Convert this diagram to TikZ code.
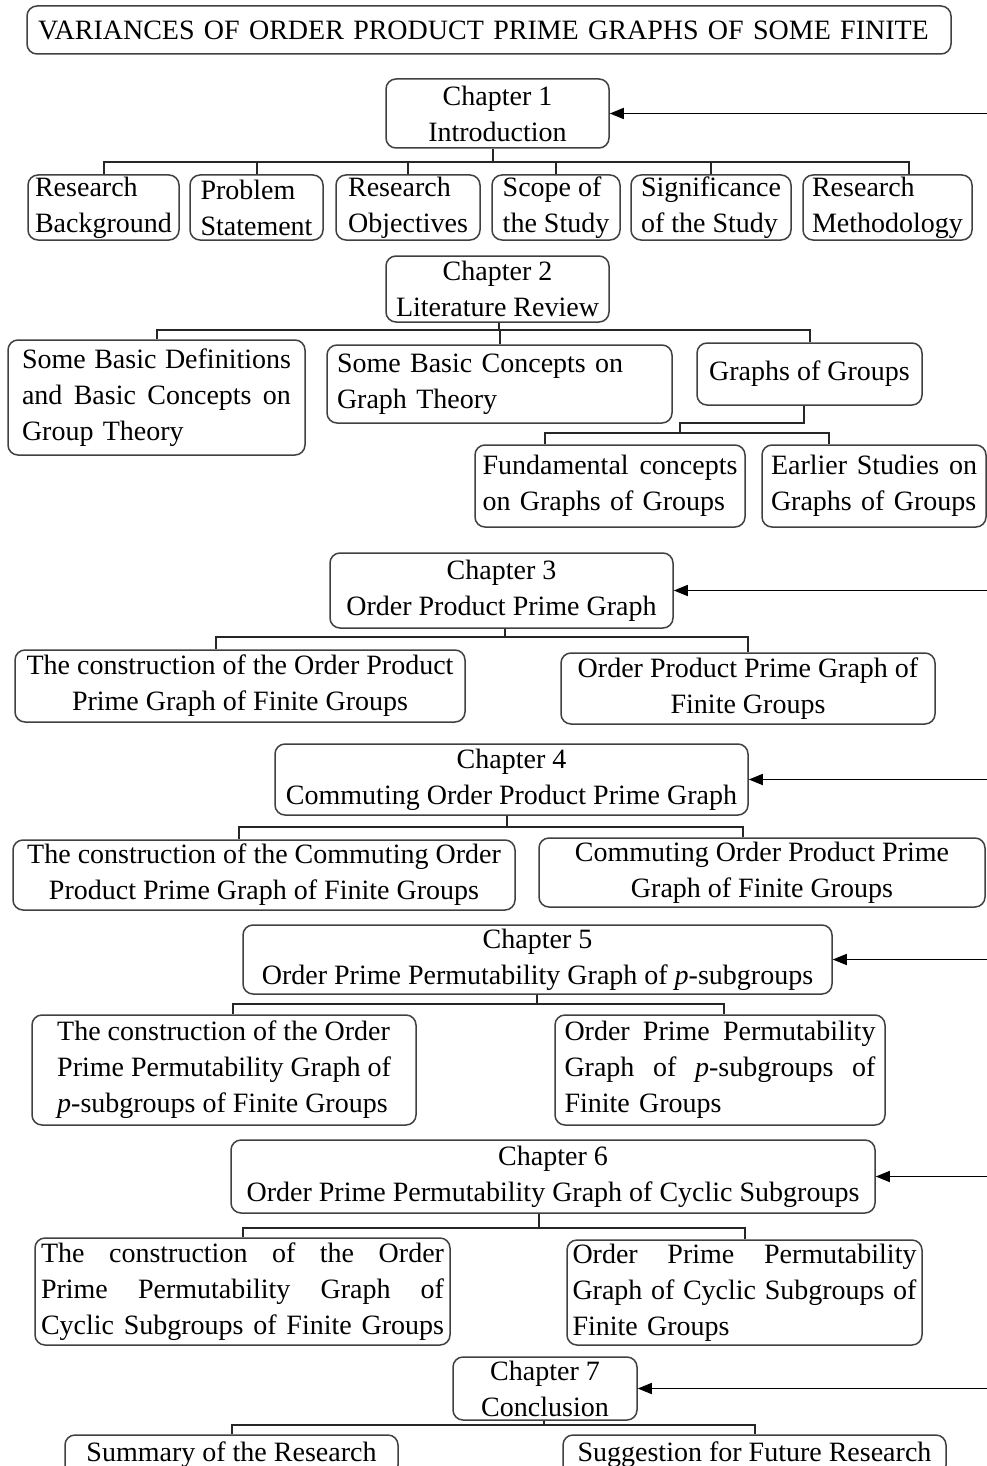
\documentclass[tikz,border=0pt]{standalone}
\usepackage{fontspec}
\setmainfont{Liberation Serif}
\usetikzlibrary{arrows.meta, calc, positioning}
\tikzset{
  box/.style  = {draw=black!75, line width=1.5pt, rounded corners=10pt, inner sep=0pt,
                 font=\fontsize{28}{36}\selectfont},
  wh/.style 2 args = {minimum width=#1, minimum height=#2},
  chap/.style = {box, align=center},
  lbl/.style  = {box, align=left},
  jbox/.style = {box, align=left, text width=#1},
  link/.style = {black!85, line width=2pt},
  feed/.style = {-{Triangle[length=14pt, width=11pt]}, line width=1.5pt, black},
}
% one justified line of a given width
\newcommand{\jl}[2]{\leavevmode\hbox to #1{\spaceskip=0.25em plus 1fil\relax #2}}

\begin{document}
\begin{tikzpicture}[x=1pt, y=-1pt]
  \useasboundingbox (0,0) rectangle (987,1466);
  \clip (0,0) rectangle (987,1466);
  \coordinate (edge) at (987,0);

  % title
  \node[jbox=902pt, wh={924pt}{48pt}] (title) at (489,30) {VARIANCES OF ORDER PRODUCT PRIME GRAPHS OF SOME FINITE};

  % chapter 1
  \node[chap, wh={223pt}{69pt}] (ch1) at (497.5,113.5) {Chapter 1\\Introduction};
  \node[lbl, wh={151pt}{65pt}] (b1) at (103.5,207.5) {Research\\Background};
  \node[lbl, wh={133pt}{65pt}] (b2) at (256.5,207.5) {Problem\\Statement};
  \node[lbl, wh={144pt}{65pt}] (b3) at (408,207.5) {Research\\Objectives};
  \node[lbl, wh={128pt}{65pt}] (b4) at (556,207.5) {Scope of\\the Study};
  \node[lbl, wh={160pt}{65pt}] (b5) at (711,207.5) {Significance\\of the Study};
  \node[lbl, wh={169pt}{65pt}] (b6) at (887.5,207.5) {Research\\Methodology};

  % chapter 2
  \node[chap, wh={223pt}{66pt}] (ch2) at (497.5,289) {Chapter 2\\Literature Review};
  \node[jbox=269pt, wh={297pt}{115pt}] (c1) at (156.5,397.5)
    {\jl{269pt}{Some Basic Definitions}\\\jl{269pt}{and Basic Concepts on}\\Group Theory};
  \node[jbox=325pt, wh={345pt}{78pt}] (c2) at (499.5,384) {Some Basic Concepts on\\Graph Theory};
  \node[chap, wh={225pt}{62pt}] (c3) at (809.5,374) {Graphs of Groups};
  \node[jbox=255pt, wh={270pt}{82pt}] (d1) at (610,486) {\jl{255pt}{Fundamental concepts}\\on Graphs of Groups};
  \node[jbox=206pt, wh={224pt}{82pt}] (d2) at (874,486) {\jl{206pt}{Earlier Studies on}\\Graphs of Groups};

  % chapter 3
  \node[chap, wh={343pt}{75pt}] (ch3) at (501.5,590.5) {Chapter 3\\Order Product Prime Graph};
  \node[chap, wh={450pt}{72pt}] (e1) at (240,686) {The construction of the Order Product\\Prime Graph of Finite Groups};
  \node[chap, wh={374pt}{71pt}] (e2) at (748,688.5) {Order Product Prime Graph of\\Finite Groups};

  % chapter 4
  \node[chap, wh={473pt}{71pt}] (ch4) at (511.5,779.5) {Chapter 4\\Commuting Order Product Prime Graph};
  \node[chap, wh={502pt}{70pt}] (f1) at (264,875) {The construction of the Commuting Order\\Product Prime Graph of Finite Groups};
  \node[chap, wh={446pt}{69pt}] (f2) at (762,872.5) {Commuting Order Product Prime\\Graph of Finite Groups};

  % chapter 5
  \node[chap, wh={589pt}{69pt}] (ch5) at (537.5,959.5) {Chapter 5\\Order Prime Permutability Graph of \textit{p}-subgroups};
  \node[lbl, wh={384pt}{110pt}] (g1) at (224,1070)
    {The construction of the Order\\Prime Permutability Graph of\\\textit{p}-subgroups of Finite Groups};
  \node[jbox=311pt, wh={330pt}{110pt}] (g2) at (720,1070)
    {\jl{311pt}{Order Prime Permutability}\\\jl{311pt}{Graph of \textit{p}-subgroups of}\\Finite Groups};

  % chapter 6
  \node[chap, wh={644pt}{73pt}] (ch6) at (553,1176.5) {Chapter 6\\Order Prime Permutability Graph of Cyclic Subgroups};
  \node[jbox=403pt, wh={415pt}{107pt}] (h1) at (242.5,1291.5)
    {\jl{403pt}{The construction of the Order}\\\jl{403pt}{Prime Permutability Graph of}\\\jl{403pt}{Cyclic Subgroups of Finite Groups}};
  \node[jbox=344pt, wh={355pt}{105pt}] (h2) at (744.5,1292.5)
    {\jl{344pt}{Order Prime Permutability}\\\jl{344pt}{Graph of Cyclic Subgroups of}\\Finite Groups};

  % chapter 7
  \node[chap, wh={184pt}{63pt}] (ch7) at (545,1388.5) {Chapter 7\\Conclusion};
  \node[lbl, wh={333pt}{40pt}] (k1) at (231.5,1455) {Summary of the Research};
  \node[lbl, wh={383pt}{40pt}] (k2) at (754.5,1455) {Suggestion for Future Research};

  % tree lines
  \coordinate (j1) at (493,162);
  \draw[link] (ch1.south -| j1) -- (j1);
  \foreach \c in {b1,b2,b3,b4,b5} \draw[link] (j1) -| (\c.north);
  \draw[link] (j1) -| ([xshift=21pt]b6.north);

  \coordinate (j2) at (499,330);
  \draw[link] (ch2.south -| j2) -- (j2);
  \foreach \c in {c1,c2,c3} \draw[link] (j2) -| (\c.north);
  \coordinate (j2a) at (804,423);
  \coordinate (j2b) at (680,433);
  \draw[link] (c3.south -| j2a) -- (j2a) -| (j2b);
  \draw[link] (j2b) -| ([xshift=-65pt]d1.north);
  \draw[link] (j2b) -| ([xshift=-45pt]d2.north);

  \coordinate (j3) at (505,637);
  \draw[link] (ch3.south -| j3) -- (j3);
  \draw[link] (j3) -| ([xshift=-24pt]e1.north);
  \draw[link] (j3) -| (e2.north);

  \coordinate (j4) at (507,827);
  \draw[link] (ch4.south -| j4) -- (j4);
  \draw[link] (j4) -| ([xshift=-25pt]f1.north);
  \draw[link] (j4) -| ([xshift=-19pt]f2.north);

  \coordinate (j5) at (537,1004);
  \draw[link] (ch5.south -| j5) -- (j5);
  \draw[link] (j5) -| ([xshift=9pt]g1.north);
  \draw[link] (j5) -| ([xshift=4pt]g2.north);

  \coordinate (j6) at (539,1228);
  \draw[link] (ch6.south -| j6) -- (j6);
  \foreach \c in {h1,h2} \draw[link] (j6) -| (\c.north);

  \coordinate (j7) at (544,1425);
  \draw[link] (ch7.south -| j7) -- (j7);
  \foreach \c in {k1,k2} \draw[link] (j7) -| (\c.north);

  % arrows from the right edge
  \foreach \c in {ch1,ch3,ch4,ch5,ch6,ch7} \draw[feed] (\c.east -| edge) -- (\c.east);
\end{tikzpicture}
\end{document}
